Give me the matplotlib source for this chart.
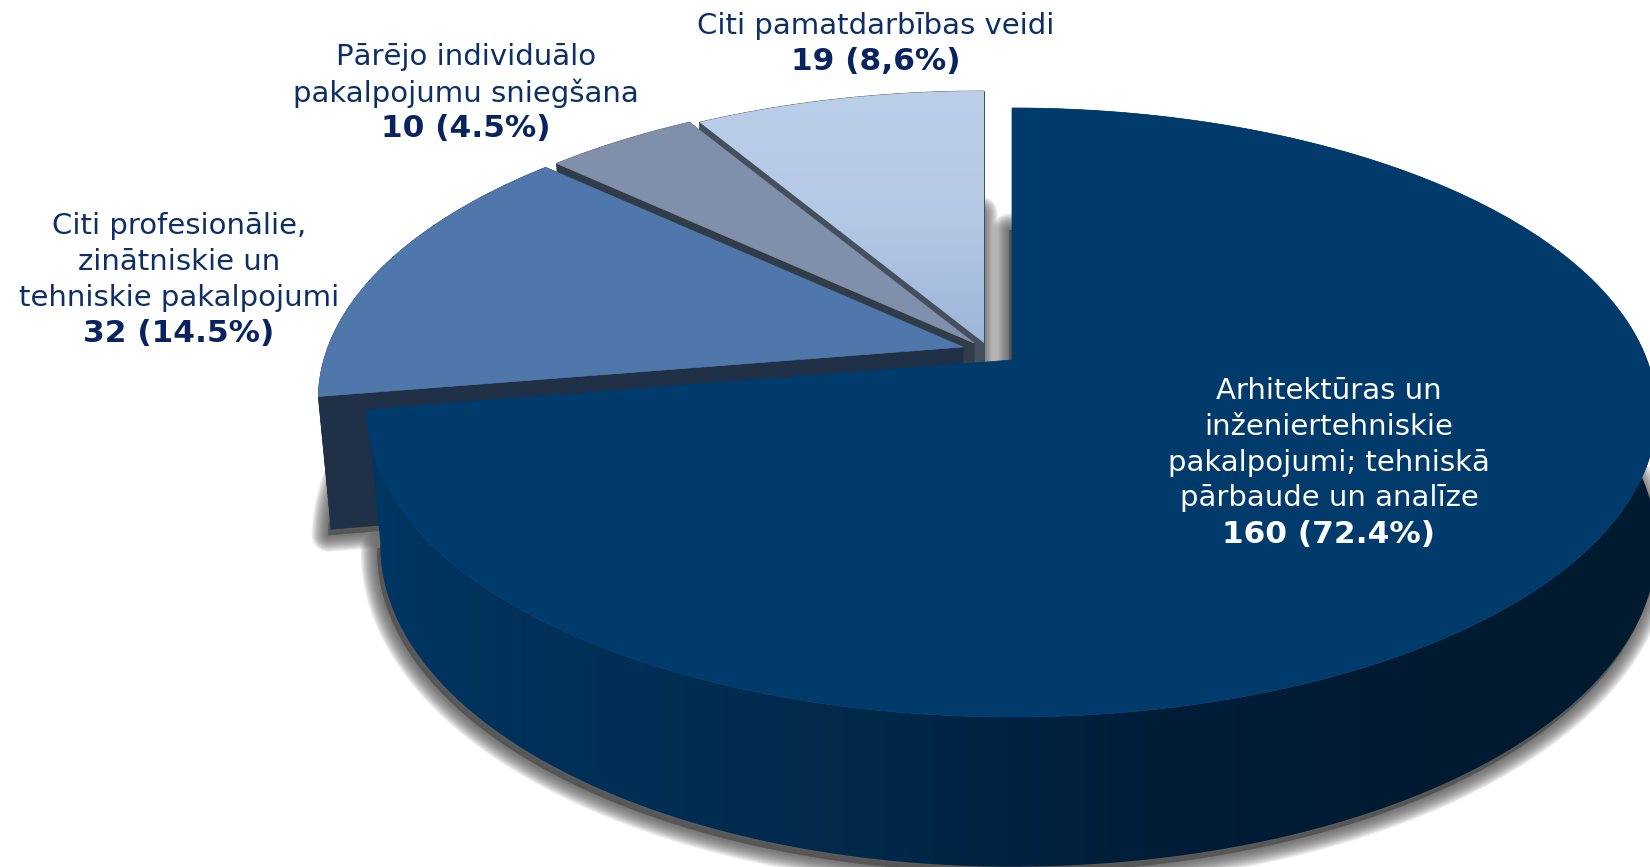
import numpy as np
import matplotlib
matplotlib.use("Agg")
import matplotlib.pyplot as plt
from matplotlib.colors import LinearSegmentedColormap
from matplotlib.patches import Polygon

# data, clockwise from 12 o'clock
labels = [
    ["Arhitektūras un", "inženiertehniskie", "pakalpojumi; tehniskā", "pārbaude un analīze"],
    ["Citi profesionālie,", "zinātniskie un", "tehniskie pakalpojumi"],
    ["Pārējo individuālo", "pakalpojumu sniegšana"],
    ["Citi pamatdarbības veidi"],
]
counts = [160, 32, 10, 19]
shares = ["72.4%", "14.5%", "4.5%", "8,6%"]

# layout
W, H = 1650, 867
apexes = [(1012, 360), (963, 347), (974, 343), (984, 343)]
label_x = [1329, 179, 466, 876]
label_y = [391, 226, 57, 26]
line_h = 35.8
R, RV, P = 635, 295.5, 0.1724   # perspective of the pie top
SHRINK_L, SHRINK_R, DROP, DROP_K = 0.98, 1.0, 130, 0.055   # how the bottom ring sits under the top

top_colors = ["#003b6b", "#4f77ab", "#8090aa", None]
wall_colors = [None, "#1f3047", "#313c49", "#45505f"]
text_colors = ["white", "#0d2f66", "#0d2f66", "#0d2f66"]
bold_colors = ["white", "#08235f", "#08235f", "#08235f"]


def rim(theta):
    x, y = np.sin(theta), np.cos(theta)
    w = 1 + P * y
    return R * x / w, -RV * y / w


def ring(apex, theta, lower=False):
    dx, dy = rim(theta)
    if lower:
        return apex[0] + np.where(dx < 0, SHRINK_L, SHRINK_R) * dx, apex[1] + dy + DROP + DROP_K * dy
    return apex[0] + dx, apex[1] + dy


def gradient(ax, pts, cmap, box, vertical):
    vals = np.linspace(0, 1, 256)
    img = vals.reshape(-1, 1) if vertical else vals.reshape(1, -1)
    im = ax.imshow(img, cmap=cmap, extent=box, origin="upper", aspect="auto", vmin=0, vmax=1, zorder=ax.zcount)
    im.set_clip_path(Polygon(pts, transform=ax.transData))
    ax.zcount += 1


fig = plt.figure(figsize=(W / 100, H / 100), dpi=100)
ax = fig.add_axes([0, 0, 1, 1])
ax.zcount = 2

edges = np.cumsum([0] + counts) / sum(counts) * 2 * np.pi
spans = [np.linspace(edges[i], edges[i + 1], 200) for i in range(len(counts))]

# soft shadow round the foot of every slice
for i in range(len(counts)):
    bx, by = ring(apexes[i], spans[i], lower=True)
    low = apexes[i][0], apexes[i][1] + DROP
    px = np.r_[low[0], bx] - 3
    py = np.r_[low[1], by] + 6
    for lw in np.linspace(24, 1, 16):
        ax.fill(px, py, facecolor="#505050", edgecolor="#505050", lw=lw, alpha=0.085, joinstyle="round", zorder=1)

wall_cmap = LinearSegmentedColormap.from_list(
    "wall", [(0, "#003763"), (0.12, "#00315a"), (0.4, "#002848"), (0.62, "#001d38"), (0.85, "#001a30"), (1, "#001a30")])
light_cmap = LinearSegmentedColormap.from_list("light", ["#bccfe9", "#b4c9e5", "#9fb5d8"])

# back slices first, big one goes on top
for i in [3, 2, 1, 0]:
    a = apexes[i]
    t = spans[i]
    tx, ty = ring(a, t)
    bx, by = ring(a, t, lower=True)
    low = (a[0], a[1] + DROP)
    top = np.column_stack([np.r_[a[0], tx], np.r_[a[1], ty]])

    # cut faces and rim face
    if wall_colors[i]:
        for k in [0, -1]:
            ax.fill([a[0], tx[k], bx[k], low[0]], [a[1], ty[k], by[k], low[1]],
                    color=wall_colors[i], lw=0.5, zorder=ax.zcount)
        ax.fill(np.r_[tx, bx[::-1]], np.r_[ty, by[::-1]], color=wall_colors[i], lw=0.5, zorder=ax.zcount)
    else:
        band = np.column_stack([np.r_[tx, bx[::-1]], np.r_[ty, by[::-1]]])
        gradient(ax, band, wall_cmap, (367, 1650, H, 0), False)
    ax.zcount += 1

    # top face
    if top_colors[i]:
        ax.fill(top[:, 0], top[:, 1], color=top_colors[i], lw=0.5, zorder=ax.zcount)
    else:
        gradient(ax, top, light_cmap, (tx.min(), tx.max(), a[1], ty.min()), True)
    ax.zcount += 1

# labels
for i in range(len(counts)):
    y = label_y[i]
    for line in labels[i]:
        ax.text(label_x[i], y, line, ha="center", va="center", fontsize=21, color=text_colors[i], zorder=50)
        y += line_h
    ax.text(label_x[i], y, "%d (%s)" % (counts[i], shares[i]), ha="center", va="center", fontsize=22.5,
            fontweight="bold", color=bold_colors[i], zorder=50)

ax.set_xlim(0, W)
ax.set_ylim(H, 0)
ax.axis("off")
fig.savefig("out.png", dpi=100, facecolor="white")
